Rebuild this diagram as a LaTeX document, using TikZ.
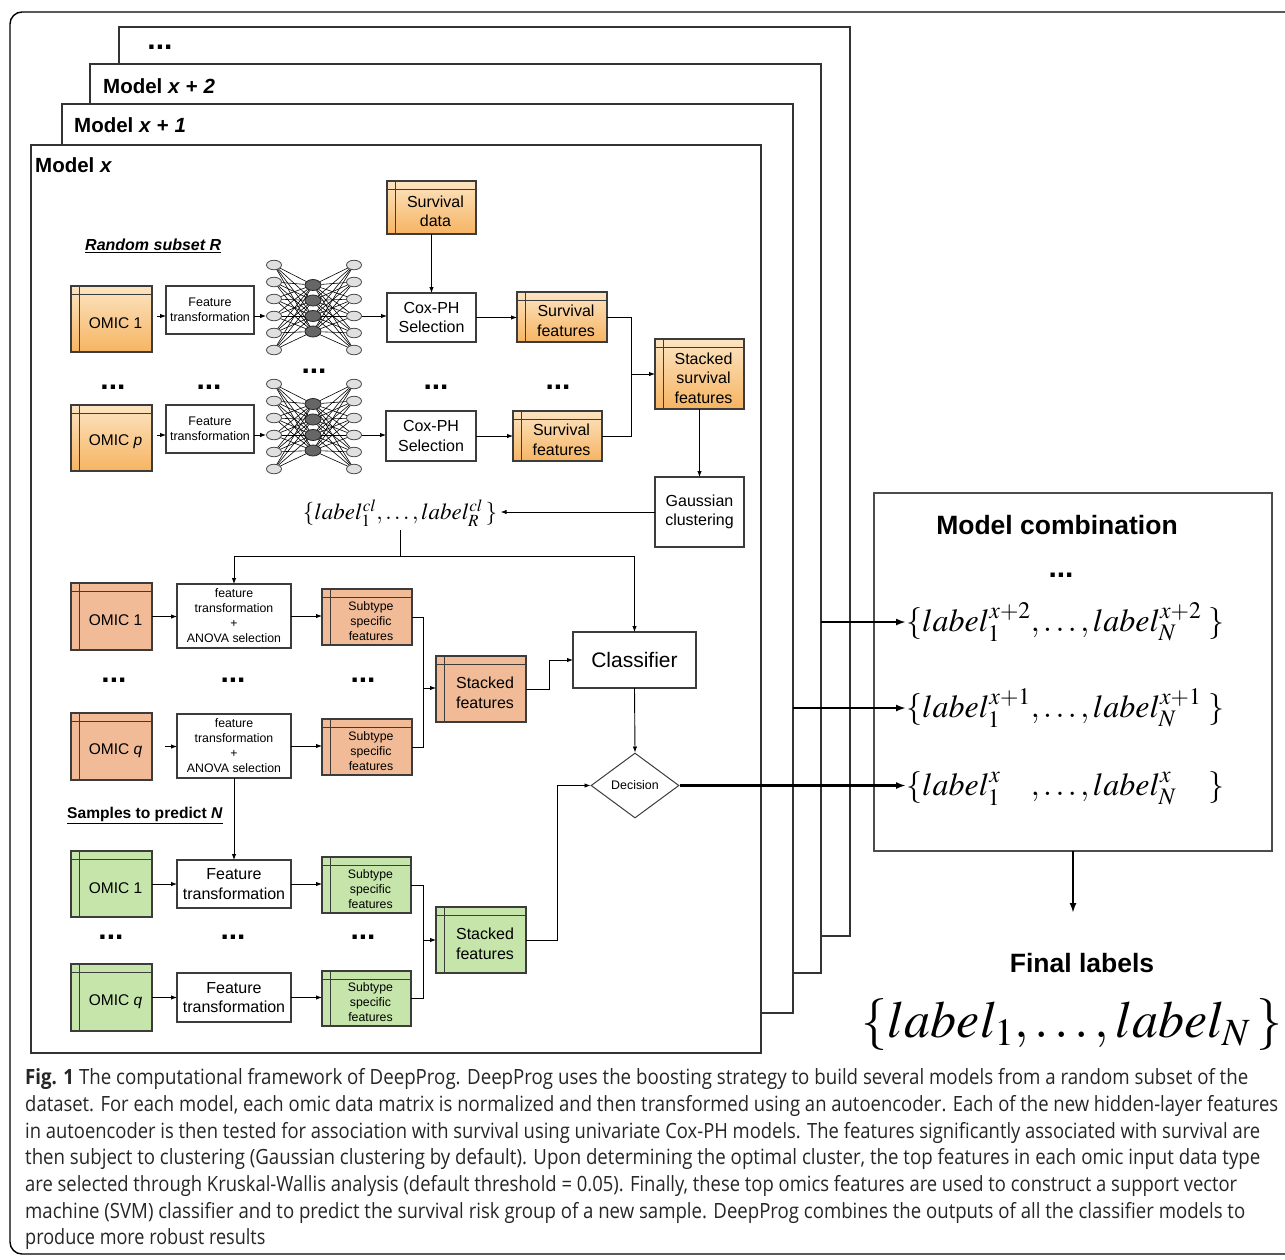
\documentclass[tikz,border=0pt]{standalone}
\usepackage{mathptmx}
\usepackage{fontspec}
\setmainfont{Liberation Sans}
\newfontfamily\capfont[FakeStretch=0.86]{Open Sans}
\usepackage{graphicx}
\usetikzlibrary{shapes.geometric,arrows.meta,calc}

\definecolor{oTop}{RGB}{252,228,194}
\definecolor{oBot}{RGB}{246,180,98}
\definecolor{salm}{RGB}{240,187,150}
\definecolor{grn}{RGB}{198,229,170}
\definecolor{bord}{RGB}{60,60,60}

\newcommand\fsz[2]{\fontsize{#1pt}{#2pt}\selectfont}

\tikzset{
 mbox/.style={draw=black!80, line width=1.3pt, fill=white},
 pbox/.style={draw=bord, line width=1.1pt, fill=white},
 tbl/.style={draw=bord, line width=1.1pt},
 tline/.style={draw=bord, line width=1pt},
 ofill/.style={top color=oTop, bottom color=oBot},
 sfill/.style={fill=salm},
 gfill/.style={fill=grn},
 conn/.style={line width=0.9pt, black},
 arr/.style={conn, -{Latex[length=6pt,width=4.5pt]}},
 tarr/.style={line width=2.6pt, -{Latex[length=10pt,width=7pt]}},
 dotsn/.style={anchor=base, font=\bfseries\fsz{30}{30}, inner sep=0pt},
 oell/.style={ellipse, draw=black!70, fill=black!12, minimum width=15pt, minimum height=9.5pt, inner sep=0pt, line width=0.8pt},
 iell/.style={ellipse, draw=black!85, fill=black!60, minimum width=16pt, minimum height=11pt, inner sep=0pt, line width=0.8pt},
 nnl/.style={line width=0.6pt, black},
 captxt/.style={anchor=west, inner sep=0pt, text=black!85, font=\capfont\fsz{21}{24}},
}

% box from corners: [style]{name}{x1}{y1}{x2}{y2}{text}
\newcommand\bx[7][]{%
 \pgfmathsetmacro\bxcx{(#3+#5)/2}%
 \pgfmathsetmacro\bxcy{(#4+#6)/2}%
 \pgfmathsetmacro\bxw{#5-#3}%
 \pgfmathsetmacro\bxh{#6-#4}%
 \node[#1, minimum width=\bxw pt, minimum height=\bxh pt, inner sep=0pt, outer sep=0pt, align=center] (#2) at (\bxcx,\bxcy) {#7};}

% table box: {name}{x1}{y1}{x2}{y2}{fill}{font}{text}
\newcommand\tb[8]{%
 \bx[tbl,#6]{#1}{#2}{#3}{#4}{#5}{}%
 \draw[tline] ([yshift=-8pt]#1.north west) -- ([yshift=-8pt]#1.north east)
              ([xshift=8pt]#1.north west) -- ([xshift=8pt]#1.south west);%
 \node[align=center, inner sep=0pt, #7] (#1t) at ($(#1.center)+(4,4)$) {#8};}

% autoencoder: {prefix}{y offset}
\newcommand\autoenc[2]{%
 \foreach \i in {1,...,6}{%
   \pgfmathsetmacro\yy{#2+265+17*(\i-1)}%
   \node[oell] (#1l\i) at (274,\yy) {};
   \node[oell] (#1r\i) at (354,\yy) {};}
 \foreach \j in {1,...,4}{%
   \pgfmathsetmacro\yy{#2+285+15.5*(\j-1)}%
   \node[iell] (#1m\j) at (313,\yy) {};}
 \foreach \i in {1,...,6}{\foreach \j in {1,...,4}{%
   \draw[nnl] (#1l\i) -- (#1m\j);
   \draw[nnl] (#1m\j) -- (#1r\i);}}}

\begin{document}
\begin{tikzpicture}[x=1pt,y=-1pt]
\useasboundingbox (0,0) rectangle (1285,1259);
\fill[white] (0,0) rectangle (1285,1259);

% outer frame
\draw[line width=1.4pt, rounded corners=12pt] (10,12) rectangle (1310,1254);

% stacked models
\bx[mbox]{mdots}{119}{27}{850}{936}{}
\bx[mbox]{mxb}{90}{64}{821}{973}{}
\bx[mbox]{mxa}{62}{104}{793}{1013}{}
\bx[mbox]{mx}{31}{145}{761}{1053}{}
\node[dotsn] (topdots) at (160,49) {...};
\node[anchor=base west, inner sep=0pt, font=\bfseries\fsz{20.5}{24}] (lbxb) at (103,93) {Model \textit{x} + \textit{2}};
\node[anchor=base west, inner sep=0pt, font=\bfseries\fsz{20.5}{24}] (lbxa) at (74,132) {Model \textit{x} + \textit{1}};
\node[anchor=base west, inner sep=0pt, font=\bfseries\fsz{20.5}{24}] (lbx) at (35,172) {Model \textit{x}};

% ---------- top part: random subset ----------
\node[anchor=base west, inner sep=0pt, font=\bfseries\itshape\fsz{16}{18}] (rs) at (85,250) {\underline{Random subset R}};

\tb{sd}{387}{181}{476}{234}{ofill}{font=\fsz{16}{19}}{Survival\\data}
\tb{om1}{71}{286}{152}{352}{ofill}{font=\fsz{15.5}{18}}{OMIC 1}
\tb{omp}{71}{405}{152}{471}{ofill}{font=\fsz{15.5}{18}}{OMIC \textit{p}}
\bx[pbox, font=\fsz{12.5}{15}]{ft1}{166}{286}{254}{334}{Feature\\transformation}
\bx[pbox, font=\fsz{12.5}{15}]{ft2}{166}{405}{254}{453}{Feature\\transformation}
\autoenc{aa}{0}
\autoenc{ab}{119}
\bx[pbox, font=\fsz{16}{19.5}]{cox1}{387}{293}{476}{342}{Cox-PH\\Selection}
\bx[pbox, font=\fsz{16}{19.5}]{cox2}{386}{411}{476}{461}{Cox-PH\\Selection}
\tb{sf1}{517}{292}{607}{342}{ofill}{font=\fsz{16}{19.5}}{Survival\\features}
\tb{sf2}{513}{411}{602}{461}{ofill}{font=\fsz{16}{19.5}}{Survival\\features}
\tb{sss}{655}{339}{744}{409}{ofill}{font=\fsz{16}{19.5}}{Stacked\\survival\\features}
\bx[pbox, font=\fsz{16}{19.5}]{gc}{655}{477}{744}{547}{Gaussian\\clustering}

\node[dotsn] (d1) at (113,389) {...};
\node[dotsn] (d2) at (209,389) {...};
\node[dotsn] (d3) at (314,373) {...};
\node[dotsn] (d4) at (436,389) {...};
\node[dotsn] (d5) at (558,389) {...};

\draw[arr] ([xshift=5pt]om1.east |- aal4) -- (ft1.west |- aal4);
\draw[arr] ([xshift=5pt]omp.east |- abl4) -- (ft2.west |- abl4);
\draw[arr] (ft1.east |- aal4) -- (aal4);
\draw[arr] (ft2.east |- abl4) -- (abl4);
\draw[arr] (aar4) -- (cox1.west |- aar4);
\draw[arr] (abr4) -- (cox2.west |- abr4);
\draw[arr] (sd.south) -- (cox1.north);
\draw[arr] (cox1.east) -- (sf1.west |- cox1.east);
\draw[arr] (cox2.east) -- (sf2.west |- cox2.east);
\coordinate (j1) at (631,374);
\draw[conn] (sf1.east) -| (j1);
\draw[conn] (sf2.east) -| (j1);
\draw[arr] (j1) -- (sss.west |- j1);
\draw[arr] (sss.south) -- (gc.north);

\node[font=\fsz{23}{26}] (lcl) at (400,513) {$\{label_1^{cl},\ldots,label_R^{cl}\,\}$};
\draw[arr] (gc.west) -- (lcl.east |- gc.west);

% ---------- middle part (training classifier) ----------
\tb{omA1}{71}{583}{152}{650}{sfill}{font=\fsz{15.5}{18}}{OMIC 1}
\tb{omAq}{71}{713}{152}{780}{sfill}{font=\fsz{15.5}{18}}{OMIC \textit{q}}
\bx[pbox, font=\fsz{12.3}{15}]{ftA1}{177}{584}{291}{648}{feature\\transformation\\+\\ANOVA selection}
\bx[pbox, font=\fsz{12.3}{15}]{ftAq}{177}{714}{291}{778}{feature\\transformation\\+\\ANOVA selection}
\tb{ssfA1}{322}{589}{412}{645}{sfill}{font=\fsz{12.3}{15}}{Subtype\\specific\\features}
\tb{ssfAq}{322}{719}{412}{775}{sfill}{font=\fsz{12.3}{15}}{Subtype\\specific\\features}
\tb{stA}{436}{656}{526}{722}{sfill}{font=\fsz{16}{19.5}}{Stacked\\features}
\bx[pbox, font=\fsz{21}{24}]{cls}{573}{632}{696}{688}{Classifier}
\node[diamond, draw=bord, line width=1pt, fill=white, minimum width=88pt, minimum height=65pt, inner sep=0pt, aspect=1.35, font=\fsz{12.4}{14}] (dec) at (635,785.5) {Decision};

\node[dotsn] (d6) at (114,682) {...};
\node[dotsn] (d7) at (233,682) {...};
\node[dotsn] (d8) at (363,682) {...};

\coordinate (sp) at (402,556);
\draw[conn] (lcl.south) -- (lcl.south |- sp);
\draw[conn] (ftA1.north |- sp) -- (cls.north |- sp);
\draw[arr] (ftA1.north |- sp) -- (ftA1.north);
\draw[arr] (cls.north |- sp) -- (cls.north);

\draw[arr] (omA1.east) -- (ftA1.west |- omA1.east);
\draw[arr] ([xshift=13pt]omAq.east) -- (ftAq.west |- omAq.east);
\draw[arr] (ftA1.east) -- (ssfA1.west |- ftA1.east);
\draw[arr] (ftAq.east) -- (ssfAq.west |- ftAq.east);
\coordinate (jA) at (423,688);
\draw[conn] (ssfA1.east) -| (jA);
\draw[conn] (ssfAq.east) -| (jA);
\draw[arr] (jA) -- (stA.west |- jA);
\coordinate (kA) at (549,689);
\draw[arr] (stA.east) -- (kA) |- (cls.west);
\draw[arr] (cls.south) -- (dec.north);

% ---------- bottom part (prediction) ----------
\node[anchor=base west, inner sep=0pt, font=\bfseries\fsz{15.6}{18}] (spn) at (67,818) {\underline{Samples to predict \textit{N}}};
\tb{omB1}{71}{851}{152}{917}{gfill}{font=\fsz{15.5}{18}}{OMIC 1}
\tb{omBq}{71}{964}{152}{1031}{gfill}{font=\fsz{15.5}{18}}{OMIC \textit{q}}
\bx[pbox, font=\fsz{16}{19.5}]{ftB1}{177}{860}{291}{908}{Feature\\transformation}
\bx[pbox, font=\fsz{16}{19.5}]{ftBq}{177}{973}{291}{1022}{Feature\\transformation}
\tb{ssfB1}{322}{857}{411}{913}{gfill}{font=\fsz{12.3}{15}}{Subtype\\specific\\features}
\tb{ssfBq}{322}{971}{411}{1026}{gfill}{font=\fsz{12.3}{15}}{Subtype\\specific\\features}
\tb{stB}{436}{907}{526}{973}{gfill}{font=\fsz{16}{19.5}}{Stacked\\features}

\node[dotsn] (d9) at (111,939) {...};
\node[dotsn] (d10) at (233,939) {...};
\node[dotsn] (d11) at (363,939) {...};

\draw[arr] (ftAq.south) -- (ftB1.north);
\draw[arr] (omB1.east) -- (ftB1.west |- omB1.east);
\draw[arr] (omBq.east) -- (ftBq.west |- omBq.east);
\draw[arr] (ftB1.east) -- (ssfB1.west |- ftB1.east);
\draw[arr] (ftBq.east) -- (ssfBq.west |- ftBq.east);
\coordinate (jB) at (423,940);
\draw[conn] (ssfB1.east) -| (jB);
\draw[conn] (ssfBq.east) -| (jB);
\draw[arr] (jB) -- (stB.west |- jB);
\coordinate (kB) at (557,940);
\draw[arr] (stB.east) -- (kB) |- (dec.west);

% ---------- model combination ----------
\bx[pbox, draw=black!70]{mc}{874}{493}{1272}{851}{}
\node[font=\bfseries\fsz{26.5}{30}] (mct) at (1057,525) {Model combination};
\node[dotsn] (mcd) at (1061,577) {...};
\node[anchor=west, inner sep=0pt, font=\fsz{32}{34}] (l2) at (906,622) {$\{label_1^{x+2},\ldots,label_N^{x+2}\;\}$};
\node[anchor=west, inner sep=0pt, font=\fsz{32}{34}] (l1) at (906,708) {$\{label_1^{x+1},\ldots,label_N^{x+1}\;\}$};
\node[anchor=west, inner sep=0pt, font=\fsz{32}{34}] (l0) at (906,786) {$\{label_1^{x\phantom{+2}},\ldots,label_N^{x\phantom{+2}}\;\}$};

\draw[tarr] (mxb.east |- l2.west) -- (l2.west);
\draw[tarr] (mxa.east |- l1.west) -- (l1.west);
\draw[tarr] (dec.east) -- (dec.east -| l0.west);

\coordinate (mce) at (1073,913);
\draw[tarr] (mc.south) -- (mce);
\node[font=\bfseries\fsz{26.5}{30}] (flt) at (1082,963) {Final labels};
\node[font=\fsz{52}{56}] (fl) at (1072,1025) {$\{label_1,\ldots,label_N\,\}$};

% ---------- caption ----------
\node[captxt] (c1) at (25,1079) {\resizebox{1223pt}{\height}{\textbf{Fig. 1} The computational framework of DeepProg. DeepProg uses the boosting strategy to build several models from a random subset of the}};
\node[captxt] (c2) at (25,1106) {\resizebox{1253pt}{\height}{dataset. For each model, each omic data matrix is normalized and then transformed using an autoencoder. Each of the new hidden-layer features}};
\node[captxt] (c3) at (25,1133) {\resizebox{1235pt}{\height}{in autoencoder is then tested for association with survival using univariate Cox-PH models. The features significantly associated with survival are}};
\node[captxt] (c4) at (25,1159) {\resizebox{1235pt}{\height}{then subject to clustering (Gaussian clustering by default). Upon determining the optimal cluster, the top features in each omic input data type}};
\node[captxt] (c5) at (25,1186) {\resizebox{1212pt}{\height}{are selected through Kruskal-Wallis analysis (default threshold = 0.05). Finally, these top omics features are used to construct a support vector}};
\node[captxt] (c6) at (25,1213) {\resizebox{1220pt}{\height}{machine (SVM) classifier and to predict the survival risk group of a new sample. DeepProg combines the outputs of all the classifier models to}};
\node[captxt] (c7) at (25,1239) {produce more robust results};
\end{tikzpicture}
\end{document}
